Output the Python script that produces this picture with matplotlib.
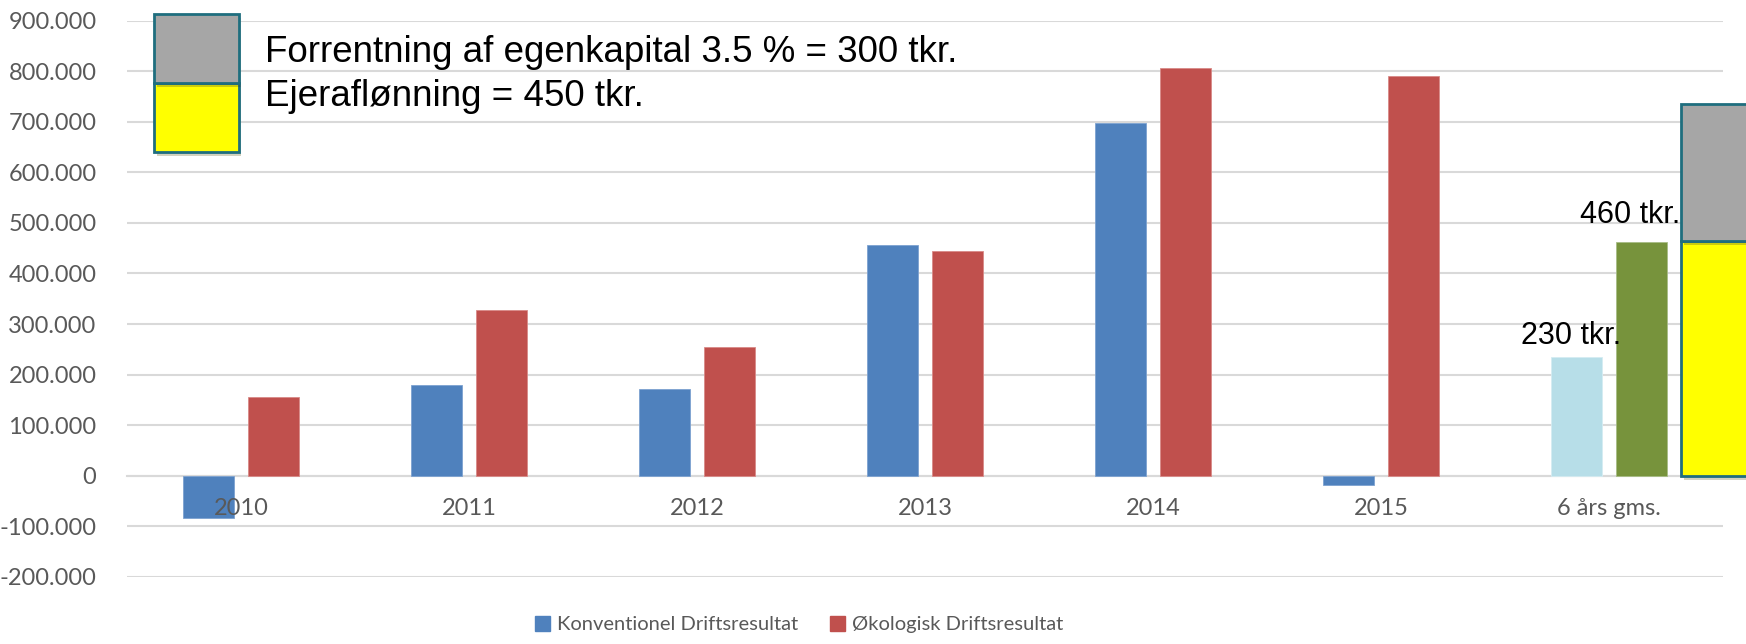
import numpy as np
import matplotlib.pyplot as plt
import matplotlib.patheffects as pe
from matplotlib.patches import Rectangle, Patch
from matplotlib.ticker import FuncFormatter

years = ["2010", "2011", "2012", "2013", "2014", "2015"]
konv = [-83000, 180000, 172000, 457000, 698000, -18000]
oeko = [156000, 328000, 255000, 444000, 807000, 790000]
avg_label = "6 års gms."
avg_konv = 235000
avg_oeko = 462000
krav_loen = 465000        # yellow part of the right box
krav_forrent = 270000     # grey part on top

BLUE = "#4F81BD"
RED = "#C0504D"
LBLUE = "#B7DEE8"
GREEN = "#77933C"
GREY = "#A6A6A6"
YELLOW = "#FFFF00"
EDGE = "#1F6E7E"
TXT = "#595959"

fig = plt.figure(figsize=(17.46, 6.44), dpi=100)
ax = fig.add_axes([127 / 1746, 1 - 576.8 / 644, 1596 / 1746, (576.8 - 20.7) / 644])

x = np.arange(len(years))
w = 0.22
off = 0.285
ax.bar(x - off / 2, konv, w, color=BLUE, edgecolor="#7DA2D0", linewidth=0.6, zorder=3)
ax.bar(x + off / 2, oeko, w, color=RED, edgecolor="#D98A88", linewidth=0.6, zorder=3)

xa = len(years)
ax.bar(xa - off / 2, avg_konv, w, color=LBLUE, edgecolor="#D5ECF2", linewidth=0.6, zorder=3)
ax.bar(xa + off / 2, avg_oeko, w, color=GREEN, edgecolor="#A8BD86", linewidth=0.6, zorder=3)

shadow = [pe.SimplePatchShadow(offset=(2, -3), alpha=0.25), pe.Normal()]

# right-hand box (required result), runs off the chart
bx = xa + 0.315
b1 = ax.bar(bx, krav_loen, 0.6, align="edge", color=YELLOW, edgecolor=EDGE, linewidth=2, zorder=4, clip_on=False)
b2 = ax.bar(bx, krav_forrent, 0.6, bottom=krav_loen, align="edge", color=GREY, edgecolor=EDGE,
            linewidth=2, zorder=4, clip_on=False)
for r in list(b1) + list(b2):
    r.set_path_effects(shadow)

ax.annotate("230 tkr.", xy=(xa - off / 2, avg_konv), xytext=(-4, 9), textcoords="offset points",
            ha="center", va="baseline", fontsize=22, family="Liberation Sans", zorder=5)
ax.annotate("460 tkr.", xy=(xa + off / 2, avg_oeko), xytext=(-8, 13.5), textcoords="offset points",
            ha="center", va="baseline", fontsize=22, family="Liberation Sans", zorder=5)

ax.set_xlim(-0.5, len(years) + 0.5)
ax.set_ylim(-200000, 900000)
ax.set_yticks(np.arange(-200000, 900001, 100000))
ax.yaxis.set_major_formatter(FuncFormatter(lambda v, p: f"{v:,.0f}".replace(",", ".")))
ax.set_xticks(list(x) + [xa])
ax.set_xticklabels(years + [avg_label])
ax.grid(axis="y", color="#D9D9D9", linewidth=1.5, zorder=0)
ax.set_axisbelow(True)
ax.xaxis.set_zorder(4)  # category labels sit on top of the bars, like in Excel
for s in ["top", "right", "left"]:
    ax.spines[s].set_visible(False)
ax.spines["bottom"].set_position(("data", 0))
ax.spines["bottom"].set_color("#D9D9D9")
ax.spines["bottom"].set_linewidth(1.5)
ax.spines["bottom"].set_zorder(1)
ax.tick_params(axis="both", length=0, colors=TXT, labelsize=17)
ax.tick_params(axis="y", pad=22)
ax.tick_params(axis="x", pad=16)
for t in ax.get_xticklabels() + ax.get_yticklabels():
    t.set_family("Lato")

# explanation box top left
r1 = Rectangle((154 / 1746, 1 - 151.7 / 644), 84.7 / 1746, (151.7 - 82.7) / 644,
               transform=fig.transFigure, facecolor=YELLOW, edgecolor=EDGE, linewidth=2, zorder=5)
r2 = Rectangle((154 / 1746, 1 - 82.7 / 644), 84.7 / 1746, (82.7 - 14) / 644,
               transform=fig.transFigure, facecolor=GREY, edgecolor=EDGE, linewidth=2, zorder=5)
for r in (r1, r2):
    r.set_path_effects(shadow)
    fig.patches.append(r)
fig.text(265 / 1746, 1 - 62.5 / 644, "Forrentning af egenkapital 3.5 % = 300 tkr.", fontsize=26.5,
         family="Liberation Sans", va="baseline")
fig.text(265 / 1746, 1 - 106 / 644, "Ejeraflønning = 450 tkr.", fontsize=26.5,
         family="Liberation Sans", va="baseline")

handles = [Patch(color=BLUE, label="Konventionel Driftsresultat"),
           Patch(color=RED, label="Økologisk Driftsresultat")]
fig.legend(handles=handles, loc="center", bbox_to_anchor=(799 / 1746, 1 - 624.7 / 644), ncol=2,
           frameon=False, prop={"family": "Lato", "size": 14.5}, labelcolor=TXT,
           handlelength=0.75, handleheight=0.75, handletextpad=0.35, columnspacing=1.6)

fig.savefig("out.png", dpi=100)
